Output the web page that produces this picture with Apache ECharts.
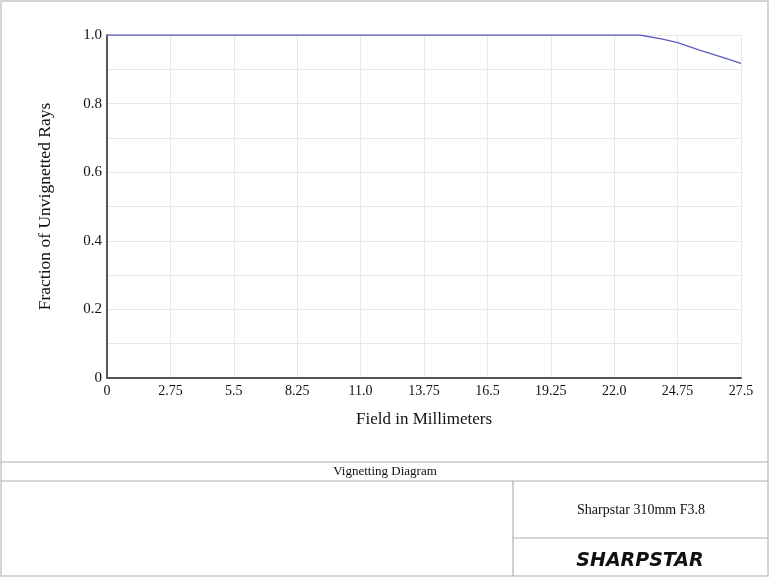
<!DOCTYPE html>
<html>
<head>
<meta charset="utf-8">
<script src="https://cdn.jsdelivr.net/npm/echarts@6/dist/echarts.min.js"></script>
<style>
  html, body { margin: 0; padding: 0; background: #fff; }
  #main { width: 770px; height: 578px; }
</style>
</head>
<body>
<div id="main"></div>
<script>
// field (mm) and fraction of unvignetted rays
var fieldMm = [0, 2.75, 5.5, 8.25, 11.0, 13.75, 16.5, 19.25, 22.0, 23.1, 24.1, 24.75, 25.7, 26.6, 27.5];
var fraction = [1, 1, 1, 1, 1, 1, 1, 1, 1, 1, 0.988, 0.978, 0.956, 0.937, 0.917];
var xTickLabels = ['0', '2.75', '5.5', '8.25', '11.0', '13.75', '16.5', '19.25', '22.0', '24.75', '27.5'];
var yTickLabels = { '0': '0', '0.2': '0.2', '0.4': '0.4', '0.6': '0.6', '0.8': '0.8', '1': '1.0' };

var serif = '"Liberation Serif", "DejaVu Serif", serif';

window.onload = function () {
  var myChart = echarts.init(document.getElementById('main'));

  var pts = [];
  for (var i = 0; i < fieldMm.length; i++) {
    pts.push([fieldMm[i], fraction[i]]);
  }

  var option = {
    backgroundColor: '#fff',
    animation: false,
    grid: { left: 107, right: 29, top: 35, bottom: 200 },
    xAxis: {
      type: 'value',
      min: 0, max: 27.5, interval: 2.75,
      name: 'Field in Millimeters',
      nameLocation: 'middle',
      nameGap: 33,
      nameTextStyle: { fontFamily: serif, fontSize: 17, color: '#111' },
      axisLine: { show: true, lineStyle: { color: '#555', width: 2 } },
      axisTick: { show: false },
      axisLabel: {
        fontFamily: serif, fontSize: 14, color: '#111', margin: 6,
        formatter: function (v) {
          var idx = Math.round(v / 2.75);
          return xTickLabels[idx] || '';
        }
      },
      splitLine: { show: true, lineStyle: { color: '#e8e8e8' } }
    },
    yAxis: {
      type: 'value',
      min: 0, max: 1, interval: 0.1,
      name: 'Fraction of Unvignetted Rays',
      nameLocation: 'middle',
      nameGap: 53,
      nameTextStyle: { fontFamily: serif, fontSize: 17.5, color: '#111' },
      axisLine: { show: true, lineStyle: { color: '#222', width: 1.5 } },
      axisTick: { show: false },
      axisLabel: {
        fontFamily: serif, fontSize: 15, color: '#111', margin: 5,
        formatter: function (v) {
          var key = String(Math.round(v * 10) / 10);
          return yTickLabels[key] || '';
        }
      },
      splitLine: { show: true, lineStyle: { color: '#e8e8e8' } }
    },
    series: [
      {
        type: 'line',
        data: pts,
        symbol: 'none',
        lineStyle: { color: '#5c5cc4', width: 1.3 }
      }
    ],
    graphic: [
      // outer frame and title block
      { type: 'rect', shape: { x: 1, y: 1, width: 767, height: 575 },
        style: { fill: 'none', stroke: '#c8c8c8', lineWidth: 1.5 } },
      { type: 'line', shape: { x1: 1, y1: 462, x2: 768, y2: 462 },
        style: { stroke: '#b0b0b0', lineWidth: 1.2 } },
      { type: 'line', shape: { x1: 1, y1: 481, x2: 768, y2: 481 },
        style: { stroke: '#b0b0b0', lineWidth: 1.2 } },
      { type: 'line', shape: { x1: 513, y1: 481, x2: 513, y2: 576 },
        style: { stroke: '#b0b0b0', lineWidth: 1.2 } },
      { type: 'line', shape: { x1: 513, y1: 538, x2: 768, y2: 538 },
        style: { stroke: '#b0b0b0', lineWidth: 1.2 } },
      { type: 'text', style: {
          text: 'Vignetting Diagram', font: '13px ' + serif, fill: '#111',
          x: 385, y: 471.5, textAlign: 'center', textVerticalAlign: 'middle' } },
      { type: 'text', style: {
          text: 'Sharpstar 310mm F3.8', font: '14px ' + serif, fill: '#111',
          x: 641, y: 510, textAlign: 'center', textVerticalAlign: 'middle' } },
      { type: 'text', style: {
          text: 'SHARPSTAR', font: 'italic bold 19px "DejaVu Sans", sans-serif', fill: '#111',
          x: 640, y: 561, textAlign: 'center', textVerticalAlign: 'middle' } }
    ]
  };

  myChart.setOption(option);
};
</script>
</body>
</html>
